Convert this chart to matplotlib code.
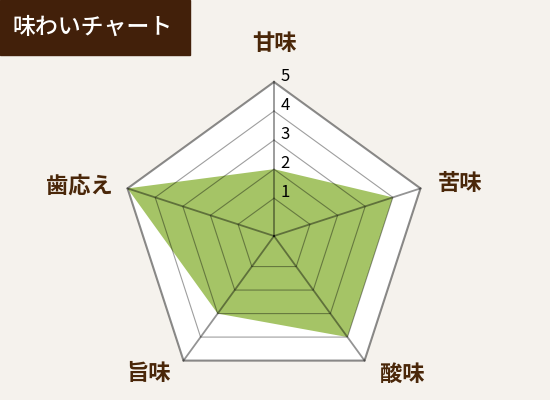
import numpy as np
import matplotlib
matplotlib.use('Agg')
import matplotlib.pyplot as plt
from matplotlib.patches import Rectangle

# ---- data ----
categories = ['甘味', '苦味', '酸味', '旨味', '歯応え']
values = [2, 4, 4, 3, 5]
levels = [1, 2, 3, 4, 5]
tick_labels = ['1', '2', '3', '4', '5']
title = '味わいチャート'

plt.rcParams['font.family'] = ['Noto Sans CJK JP', 'DejaVu Sans']

BG = '#f5f2ed'
BROWN = '#42200a'
LABEL = '#4a2709'
GREEN = '#a5c466'

fig = plt.figure(figsize=(5.5, 4), dpi=100)
fig.patch.set_facecolor(BG)

ax = fig.add_axes([0.2182, 0.025, 0.56, 0.77], projection='polar')
ax.set_theta_offset(np.pi / 2)
ax.set_theta_direction(-1)
rmin, rmax = -0.3, levels[-1]
ax.set_ylim(rmin, rmax)
ax.axis('off')

n = len(categories)
angles = np.linspace(0, 2 * np.pi, n, endpoint=False)
th = np.append(angles, angles[0])

# white plot area inside outer pentagon
ax.fill(th, [rmax] * (n + 1), color='white', lw=0, zorder=1, clip_on=False)

# data polygon
vals = np.append(values, values[0])
ax.fill(th, vals, color=GREEN, lw=0, zorder=2, clip_on=False)

# grid pentagons
for lv in levels[:-1]:
    ax.plot(th, [lv] * (n + 1), color='black', alpha=0.38, lw=0.8, zorder=3, clip_on=False)
ax.plot(th, [rmax] * (n + 1), color='black', alpha=0.45, lw=1.5, zorder=3, clip_on=False,
        solid_joinstyle='miter')

# spokes
for a in angles:
    ax.plot([a, a], [rmin, rmax], color='black', alpha=0.42, lw=1.3, zorder=3, clip_on=False)

# tick labels along top spoke
for lv, t in zip(levels, tick_labels):
    ax.annotate(t, xy=(0, lv), xytext=(4.5, 4.2), textcoords='offset points',
                ha='left', va='center', fontsize=12, color='black', zorder=5,
                annotation_clip=False)

# category labels
offsets = [(0, 27.4), (28.4, 3.2), (27, -9.6), (-25.6, -9.6), (-34.9, 1.7)]
for a, cat, off in zip(angles, categories, offsets):
    ax.annotate(cat, xy=(a, rmax), xytext=off, textcoords='offset points',
                ha='center', va='center', fontsize=16, fontweight='bold',
                color=LABEL, annotation_clip=False)

# title box
fig.patches.append(Rectangle((0, 1 - 55 / 400), 190 / 550, 55 / 400,
                             transform=fig.transFigure, color=BROWN, zorder=0))
fig.text(13 / 550, 1 - 27 / 400, title, color='white', fontsize=16.5,
         fontweight='medium', ha='left', va='center')

fig.savefig('out.png', dpi=100, facecolor=BG)
